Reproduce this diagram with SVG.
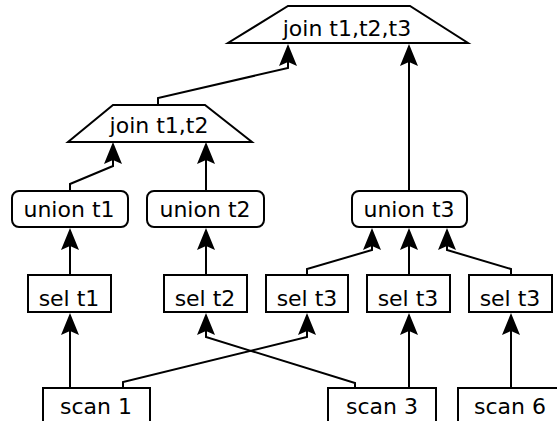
<svg xmlns="http://www.w3.org/2000/svg" width="557" height="421" viewBox="0 0 557 421">
<style>
.n{fill:#fff;stroke:#000;stroke-width:2}
.t{font-family:"DejaVu Sans",sans-serif;font-size:22px;text-anchor:middle;fill:#000}
.c{fill:none;stroke:#000;stroke-width:2;marker-end:url(#ah)}
</style>
<defs>
<marker id="ah" markerUnits="userSpaceOnUse" markerWidth="26" markerHeight="20" viewBox="-14 -10 26 20" refX="0" refY="0" orient="auto" overflow="visible">
<path d="M10,0 L-12,-9 L-8,0 L-12,9 Z" fill="#000"/>
</marker>
</defs>
<rect width="557" height="421" fill="#fff"/>
<g id="connectors">
<path class="c" d="M158,105 V98 L288,68 V54"/>
<path class="c" d="M409,191 V54"/>
<path class="c" d="M70,191 V184 L113,166 V152"/>
<path class="c" d="M206,191 V152"/>
<path class="c" d="M70,275 V238"/>
<path class="c" d="M206,275 V238"/>
<path class="c" d="M307,275 V269 L372,250 V238"/>
<path class="c" d="M409,275 V238"/>
<path class="c" d="M511,275 V269 L447,250 V238"/>
<path class="c" d="M70,388 V323"/>
<path class="c" d="M123,388 V382 L307,337 V323"/>
<path class="c" d="M355,388 V383 L206,337 V323"/>
<path class="c" d="M409,388 V323"/>
<path class="c" d="M511,388 V323"/>
</g>
<g id="join123"><path class="n" d="M288,6 H410 L468,43 H228 Z"/><text class="t" x="347" y="36">join t1,t2,t3</text></g>
<g id="join12"><path class="n" d="M113,105 H205 L252,142 H68 Z"/><text class="t" x="159" y="133">join t1,t2</text></g>
<g id="union1"><rect class="n" x="12" y="191" width="116" height="36" rx="7"/><text class="t" x="69" y="217">union t1</text></g>
<g id="union2"><rect class="n" x="147" y="191" width="117" height="36" rx="7"/><text class="t" x="205" y="217">union t2</text></g>
<g id="union3"><rect class="n" x="352" y="191" width="115" height="36" rx="7"/><text class="t" x="409" y="217">union t3</text></g>
<g id="sel1"><rect class="n" x="28" y="275" width="83" height="37"/><text class="t" x="69" y="306">sel t1</text></g>
<g id="sel2"><rect class="n" x="164" y="275" width="83" height="37"/><text class="t" x="205" y="306">sel t2</text></g>
<g id="sel3a"><rect class="n" x="266" y="275" width="82" height="37"/><text class="t" x="307" y="306">sel t3</text></g>
<g id="sel3b"><rect class="n" x="367" y="275" width="83" height="37"/><text class="t" x="408" y="306">sel t3</text></g>
<g id="sel3c"><rect class="n" x="469" y="275" width="83" height="37"/><text class="t" x="510" y="306">sel t3</text></g>
<g id="scan1"><rect class="n" x="43" y="388" width="107" height="42"/><text class="t" x="96" y="414">scan 1</text></g>
<g id="scan3"><rect class="n" x="328" y="388" width="108" height="42"/><text class="t" x="382" y="414">scan 3</text></g>
<g id="scan6"><rect class="n" x="458" y="388" width="108" height="42"/><text class="t" x="510" y="414">scan 6</text></g>
</svg>
